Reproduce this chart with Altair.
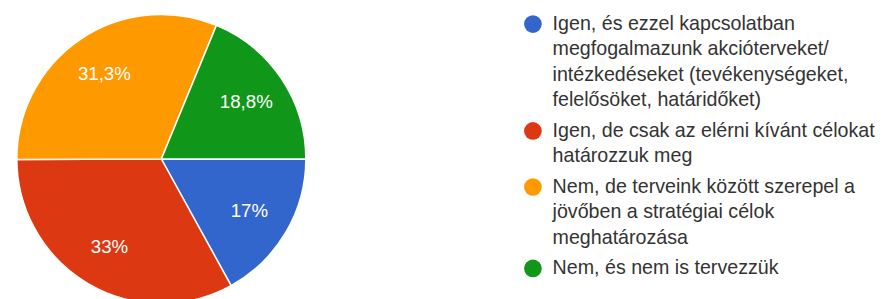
import math
import altair as alt
import pandas as pd

# ---- data ----
categories = [
    "Igen, és ezzel kapcsolatban megfogalmazunk akcióterveket/ intézkedéseket (tevékenységeket, felelősöket, határidőket)",
    "Igen, de csak az elérni kívánt célokat határozzuk meg",
    "Nem, de terveink között szerepel a jövőben a stratégiai célok meghatározása",
    "Nem, és nem is tervezzük",
]
legend_lines = [
    ["Igen, és ezzel kapcsolatban", "megfogalmazunk akcióterveket/",
     "intézkedéseket (tevékenységeket,", "felelősöket, határidőket)"],
    ["Igen, de csak az elérni kívánt célokat", "határozzuk meg"],
    ["Nem, de terveink között szerepel a", "jövőben a stratégiai célok", "meghatározása"],
    ["Nem, és nem is tervezzük"],
]
percents = [17.0, 33.0, 31.3, 18.8]
pct_labels = ["17%", "33%", "31,3%", "18,8%"]
colors = ["#3366cc", "#dc3912", "#ff9900", "#109618"]

FONT = "Liberation Sans"

pie_df = pd.DataFrame({
    "cat": categories,
    "value": percents,
    "label": pct_labels,
    "order": list(range(len(categories))),
})

# legend rows: one per text line
rows = []
k = 0
GROUP_GAP = 0.2
for g, (cat, lines) in enumerate(zip(categories, legend_lines)):
    for j, line in enumerate(lines):
        rows.append({"cat": cat, "line": line, "slot": k + g * GROUP_GAP, "first": j == 0})
        k += 1
leg_df = pd.DataFrame(rows)

theta_scale = alt.Scale(range=[math.pi / 2, math.pi / 2 + 2 * math.pi])
color_scale = alt.Scale(domain=categories, range=colors)

pie_base = alt.Chart(pie_df).encode(
    theta=alt.Theta("value:Q", stack=True, scale=theta_scale),
    order=alt.Order("order:Q"),
)
arcs = pie_base.mark_arc(outerRadius=147, stroke="white", strokeWidth=1.5).encode(
    color=alt.Color("cat:N", scale=color_scale, legend=None)
)
labels = pie_base.mark_text(radius=104, font=FONT, fontSize=19, color="white").encode(
    text="label:N"
)
pie = alt.layer(arcs, labels).properties(width=312, height=302)

y_enc = alt.Y("slot:Q", scale=alt.Scale(domain=[-0.529, 11.131], reverse=True), axis=None)
leg_base = alt.Chart(leg_df).encode(y=y_enc)
dots = leg_base.transform_filter("datum.first").mark_point(
    filled=True, size=324, opacity=1, shape="circle"
).encode(
    x=alt.value(9),
    color=alt.Color("cat:N", scale=color_scale, legend=None),
)
texts = leg_base.mark_text(
    align="left", baseline="middle", font=FONT, fontSize=20, color="#333333"
).encode(x=alt.value(29), text="line:N")
legend = alt.layer(dots, texts).properties(width=350, height=302)

chart = alt.hconcat(pie, legend, spacing=213).properties(padding=0).configure_view(stroke=None)

chart.save("out.html", embed_options={"renderer": "svg", "actions": False})
